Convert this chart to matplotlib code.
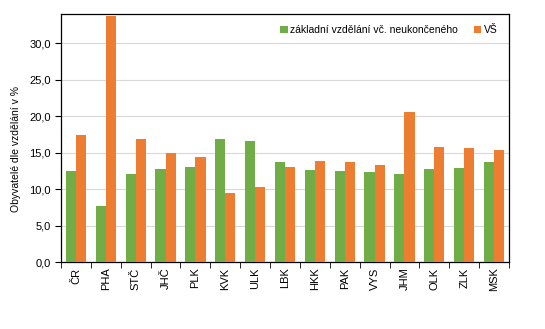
import numpy as np
import matplotlib.pyplot as plt

plt.rcParams['font.family'] = ['Liberation Sans', 'DejaVu Sans']

# kraje
kraje = ["ČR", "PHA", "STČ", "JHČ", "PLK", "KVK", "ULK", "LBK", "HKK", "PAK",
         "VYS", "JHM", "OLK", "ZLK", "MSK"]
zakladni = [12.5, 7.7, 12.1, 12.8, 13.0, 16.9, 16.6, 13.7, 12.6, 12.5,
            12.4, 12.1, 12.8, 12.9, 13.7]
vs = [17.4, 33.7, 16.9, 15.0, 14.4, 9.5, 10.3, 13.0, 13.9, 13.7,
      13.3, 20.6, 15.7, 15.6, 15.4]

fig = plt.figure(figsize=(5.45, 3.29), dpi=100)
ax = fig.add_axes([61 / 545, 1 - 262 / 329, 448 / 545, 248 / 329])

x = np.arange(len(kraje))
w = 0.34
ax.bar(x - w / 2, zakladni, w, color="#70AD47", label="základní vzdělání vč. neukončeného", zorder=3)
ax.bar(x + w / 2, vs, w, color="#ED7D31", label="VŠ", zorder=3)

ax.set_xlim(-0.5, len(kraje) - 0.5)
ax.set_ylim(0, 34)
ax.set_yticks(np.arange(0, 31, 5))
ax.set_yticklabels([f"{v:.1f}".replace(".", ",") for v in np.arange(0, 31, 5)], fontsize=8)
ax.set_xticks(x)
ax.set_xticklabels(kraje, rotation=90, fontsize=8)
ax.tick_params(axis="x", length=0, pad=4)
ax.set_xticks(np.arange(-0.5, len(kraje)), minor=True)
ax.tick_params(axis="x", which="minor", length=4, direction="out")
ax.tick_params(axis="y", length=4, direction="out")
ax.yaxis.grid(True, color="#D9D9D9", linewidth=0.8, zorder=0)
for s in ax.spines.values():
    s.set_color("black")
    s.set_linewidth(0.9)

ax.set_ylabel("Obyvatelé dle vzdělání v %", fontsize=7.5)
ax.yaxis.set_label_coords(-0.09, 0.455)
ax.legend(loc="upper right", bbox_to_anchor=(0.99, 0.985), ncol=2, frameon=False, fontsize=7.5,
          handlelength=0.7, handleheight=0.7, handletextpad=0.2, columnspacing=1.6,
          borderaxespad=0.3)

fig.savefig("out.png")
